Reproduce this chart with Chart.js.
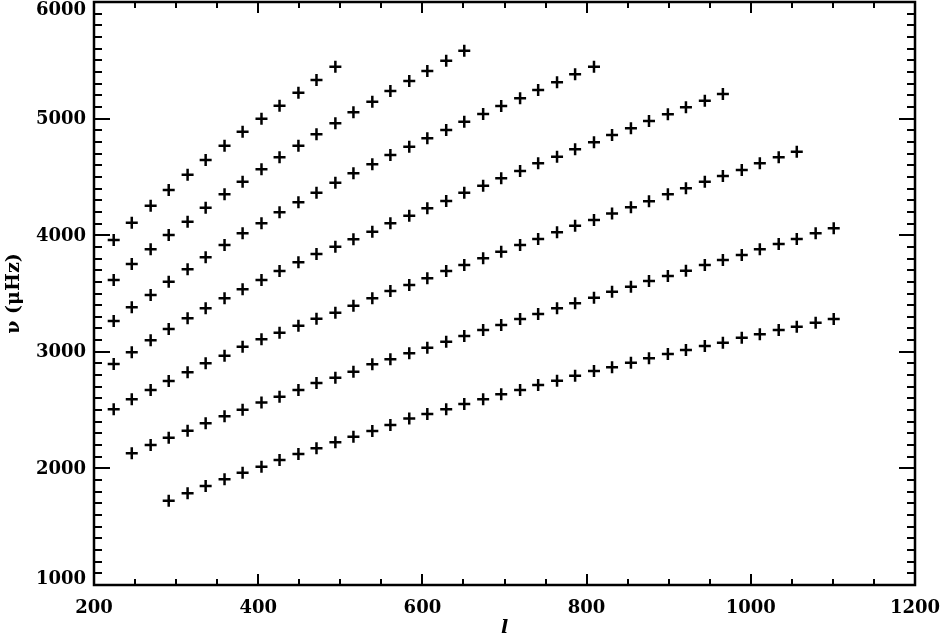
<!DOCTYPE html>
<html>
<head>
<meta charset="utf-8">
<script src="https://cdn.jsdelivr.net/npm/chart.js@4.4.1/dist/chart.umd.min.js"></script>
<style>
html, body { margin: 0; padding: 0; background: #fff; }
</style>
</head>
<body>
<canvas id="c" width="940" height="640"></canvas>
<script>
// degree l of the modes (shared grid)
const ellGrid = [224, 246, 269, 291, 314, 336, 359, 381, 404, 426,
                 449, 471, 494, 516, 539, 561, 584, 606, 629, 651,
                 674, 696, 719, 741, 764, 786, 809, 831, 854, 876,
                 899, 921, 944, 966, 989, 1011, 1034, 1056, 1079, 1101];

// index in ellGrid where each ridge starts
const ridgeStart = [0, 0, 0, 0, 0, 1, 3];

// frequencies (muHz), ridge by ridge, top ridge first
const nu1 = [3959, 4107, 4253, 4388, 4519, 4645, 4767, 4888, 4999, 5110,
             5222, 5331, 5445];
const nu2 = [3616, 3753, 3879, 4002, 4116, 4236, 4351, 4459, 4565, 4668,
             4767, 4865, 4960, 5054, 5145, 5237, 5322, 5408, 5496, 5582];
const nu3 = [3264, 3382, 3487, 3601, 3707, 3810, 3916, 4016, 4102, 4197,
             4283, 4364, 4450, 4531, 4608, 4688, 4759, 4831, 4902, 4973,
             5039, 5108, 5174, 5245, 5311, 5380, 5445];
const nu4 = [2895, 2996, 3099, 3195, 3287, 3373, 3459, 3536, 3616, 3693,
             3767, 3839, 3901, 3965, 4030, 4102, 4167, 4231, 4293, 4364,
             4424, 4488, 4550, 4616, 4673, 4737, 4797, 4859, 4917, 4979,
             5037, 5097, 5153, 5211];
const nu5 = [2507, 2593, 2672, 2750, 2824, 2901, 2967, 3044, 3107, 3164,
             3224, 3284, 3335, 3395, 3459, 3521, 3573, 3630, 3693, 3744,
             3802, 3858, 3916, 3967, 4025, 4081, 4130, 4186, 4239, 4291,
             4351, 4402, 4459, 4508, 4559, 4616, 4668, 4716];
const nu6 = [2129, 2201, 2263, 2323, 2387, 2447, 2503, 2565, 2615, 2672,
             2732, 2778, 2829, 2893, 2936, 2987, 3035, 3087, 3135, 3187,
             3230, 3281, 3324, 3373, 3416, 3464, 3515, 3558, 3607, 3650,
             3695, 3744, 3787, 3830, 3879, 3924, 3967, 4016, 4059];
const nu7 = [1723, 1786, 1849, 1906, 1963, 2015, 2072, 2123, 2172, 2224,
             2272, 2321, 2372, 2428, 2466, 2507, 2552, 2593, 2635, 2672,
             2715, 2752, 2795, 2835, 2868, 2906, 2944, 2981, 3015, 3050,
             3078, 3121, 3150, 3187, 3215, 3250, 3281];

const ridges = [nu1, nu2, nu3, nu4, nu5, nu6, nu7];

const labelFont = 'bold 18px "DejaVu Serif"';

//inward ticks on all four sides, frame, and y labels
const idlFrame = {
    id: 'idlFrame',
    afterDatasetsDraw(chart) {
        const { ctx, chartArea: a } = chart;
        const x = chart.scales.x, y = chart.scales.y;
        ctx.save();
        ctx.strokeStyle = '#000';
        ctx.lineWidth = 2;
        ctx.beginPath();
        for (let v = x.min; v <= x.max; v += 50) {
            const px = Math.round(x.getPixelForValue(v));
            const len = (v % 200 === 0) ? 11 : 6;
            ctx.moveTo(px, a.bottom); ctx.lineTo(px, a.bottom - len);
            ctx.moveTo(px, a.top); ctx.lineTo(px, a.top + len);
        }
        for (let v = y.min; v <= y.max; v += 100) {
            const py = Math.round(y.getPixelForValue(v));
            const len = (v % 1000 === 0) ? 16 : 8;
            ctx.moveTo(a.left, py); ctx.lineTo(a.left + len, py);
            ctx.moveTo(a.right, py); ctx.lineTo(a.right - len, py);
        }
        ctx.stroke();
        ctx.lineWidth = 2.5;
        ctx.strokeRect(a.left, a.top, a.right - a.left, a.bottom - a.top);
        // y labels (end ones pulled inside the frame height, as in the original)
        ctx.fillStyle = '#000';
        ctx.font = labelFont;
        ctx.textAlign = 'right';
        ctx.textBaseline = 'middle';
        y.ticks.forEach(t => {
            let py = y.getPixelForValue(t.value) + 1;
            py = Math.min(Math.max(py, a.top + 8), a.bottom - 6);
            ctx.fillText(String(t.value), a.left - 8, py);
        });
        ctx.restore();
    }
};

const datasets = ridges.map((nu, i) => ({
    data: nu.map((v, j) => ({ x: ellGrid[ridgeStart[i] + j], y: v })),
    pointStyle: 'cross',
    pointRadius: 6,
    pointHoverRadius: 6,
    pointBorderWidth: 2.5,
    borderColor: '#000',
    backgroundColor: '#000',
    showLine: false
}));

new Chart(document.getElementById('c'), {
    type: 'scatter',
    data: { datasets: datasets },
    options: {
        responsive: false,
        animation: false,
        events: [],
        layout: { autoPadding: false, padding: { top: 2, right: 25, left: 0, bottom: 0 } },
        plugins: {
            legend: { display: false },
            tooltip: { enabled: false }
        },
        scales: {
            x: {
                type: 'linear',
                min: 200,
                max: 1200,
                grid: { display: false, drawTicks: false },
                border: { display: false },
                ticks: {
                    stepSize: 200,
                    color: '#000',
                    padding: 13,
                    font: { family: 'DejaVu Serif', size: 18, weight: 'bold' },
                    maxRotation: 0,
                    callback: v => String(v)
                },
                title: {
                    display: true,
                    text: 'l',
                    color: '#000',
                    padding: { top: 0, bottom: 1 },
                    font: { family: 'DejaVu Serif', size: 19, weight: 'bold', style: 'italic' }
                },
                afterFit(scale) {
                    scale.height = 55;
                    scale.paddingLeft = 0;
                    scale.paddingRight = 0;
                }
            },
            y: {
                type: 'linear',
                min: 1000,
                max: 6000,
                grid: { display: false, drawTicks: false },
                border: { display: false },
                ticks: { stepSize: 1000, display: false },
                title: {
                    display: true,
                    text: 'ν (μHz)',
                    color: '#000',
                    padding: { top: 3, bottom: 0 },
                    font: { family: 'DejaVu Serif', size: 19, weight: 'bold' }
                },
                afterFit(scale) {
                    scale.width = 94;
                    scale.paddingTop = 0;
                    scale.paddingBottom = 0;
                }
            }
        }
    },
    plugins: [idlFrame]
});
</script>
</body>
</html>
